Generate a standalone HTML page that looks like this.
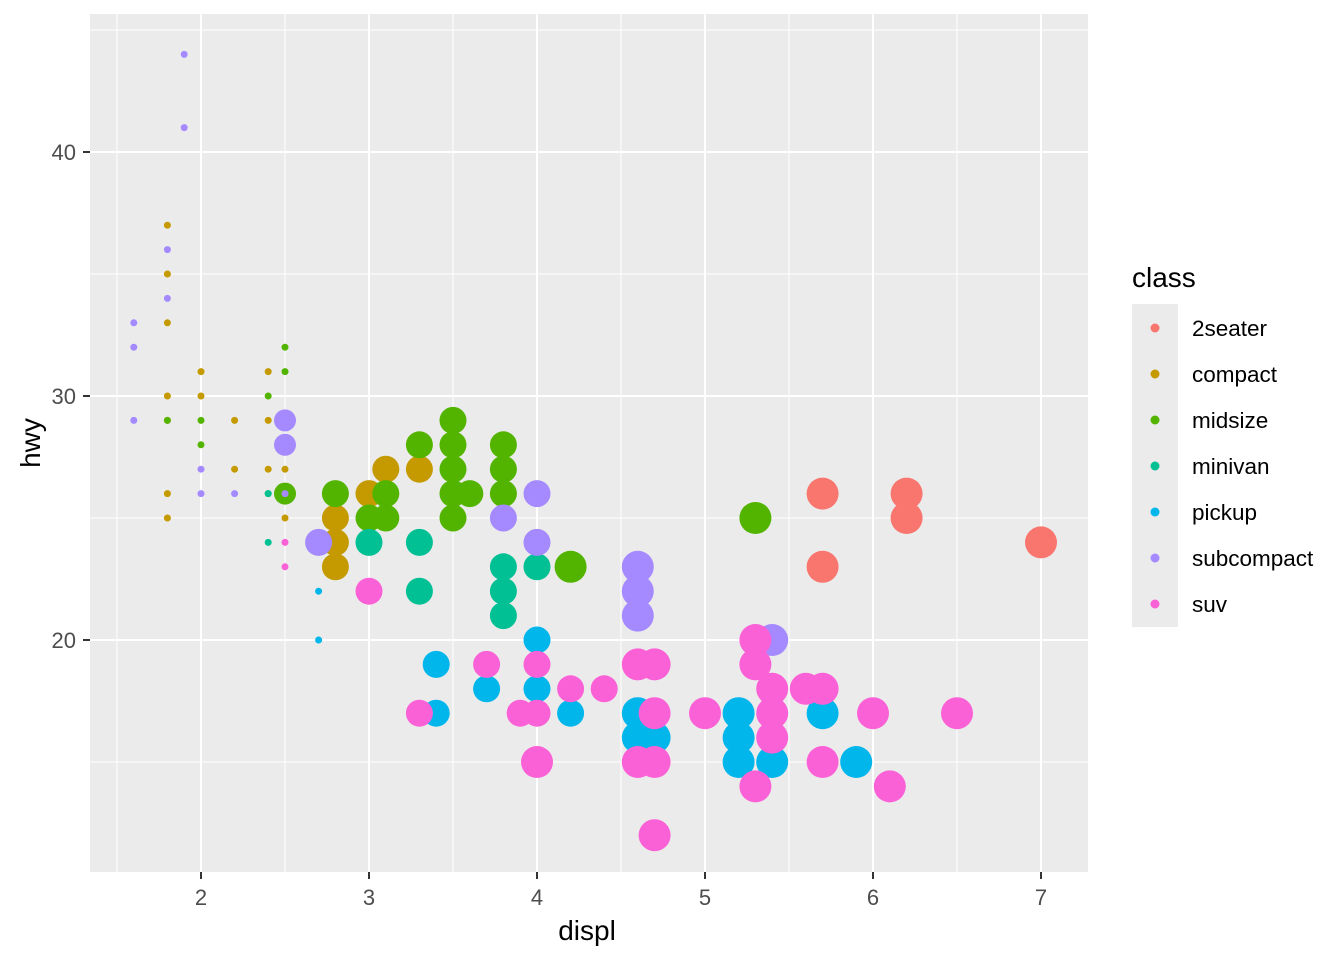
<!DOCTYPE html>
<html><head><meta charset="utf-8"><style>
body{margin:0;background:#fff}
svg{display:block;font-family:"Liberation Sans",sans-serif}
</style></head><body>
<svg id="s" width="1344" height="960" xmlns="http://www.w3.org/2000/svg">
<rect x="0" y="0" width="1344" height="960" fill="#fff"/>
<rect x="90" y="14" width="998" height="858" fill="#EBEBEB"/>
<g id="grid"></g>
<g id="pts"></g>
<g id="ax" fill="#4D4D4D" font-size="22"></g>
<text x="587" y="940" font-size="28" text-anchor="middle" fill="#000">displ</text>
<text transform="translate(40,443) rotate(-90)" font-size="28" text-anchor="middle" fill="#000">hwy</text>
<text x="1132" y="287" font-size="28" fill="#000">class</text>
<rect x="1132" y="304" width="46" height="323" fill="#EBEBEB"/>
<g id="leg" font-size="22.5"></g>
</svg>
<script>
const ns="http://www.w3.org/2000/svg";
function el(p,t,a,txt){const e=document.createElementNS(ns,t);for(const k in a)e.setAttribute(k,a[k]);if(txt!==undefined)e.textContent=txt;document.getElementById(p).appendChild(e);}
const X=d=>201+(d-2)*168, Y=h=>640-(h-20)*24.4;
[1.5,2.5,3.5,4.5,5.5,6.5].forEach(d=>el('grid','line',{x1:X(d),x2:X(d),y1:14,y2:872,stroke:'#fff','stroke-width':1}));
[15,25,35,45].forEach(h=>el('grid','line',{x1:90,x2:1088,y1:Y(h),y2:Y(h),stroke:'#fff','stroke-width':1}));
[2,3,4,5,6,7].forEach(d=>{el('grid','line',{x1:X(d),x2:X(d),y1:14,y2:872,stroke:'#fff','stroke-width':2});
 el('ax','line',{x1:X(d),x2:X(d),y1:872,y2:879,stroke:'#333','stroke-width':2});
 el('ax','text',{x:X(d),y:905,'text-anchor':'middle'},d);});
[20,30,40].forEach(h=>{el('grid','line',{x1:90,x2:1088,y1:Y(h),y2:Y(h),stroke:'#fff','stroke-width':2});
 el('ax','line',{x1:83,x2:90,y1:Y(h),y2:Y(h),stroke:'#333','stroke-width':2});
 el('ax','text',{x:76,y:Y(h)+8,'text-anchor':'end'},h);});
const C={t:'#F8766D',c:'#C49A00',m:'#53B400',v:'#00C094',p:'#00B6EB',s:'#A58AFF',u:'#FB61D7'};
const S=3.5,L=13.5,B=16,M=11;
const P=[
['t',[[5.7,26],[6.2,26],[6.2,25],[5.7,23],[7,24]],B],
['c',[[1.8,37],[1.8,35],[1.8,33],[1.8,30],[1.8,29],[1.8,26],[1.8,25],[2,31],[2,30],[2.2,29],[2.2,27],[2.4,31],[2.4,29],[2.4,27],[2.5,29],[2.5,27],[2.5,25]],S],
['c',[[2.8,25],[2.8,24],[2.8,23],[3,26],[3.1,27],[3.3,27]],L],
['m',[[1.8,29],[2,29],[2,28],[2.4,30],[2.4,26],[2.5,32],[2.5,31]],S],
['m',[[2.5,26]],M],
['m',[[2.8,26],[3,25],[3.1,26],[3.1,25],[3.3,28],[3.5,29],[3.5,28],[3.5,27],[3.5,26],[3.5,25],[3.6,26],[3.8,28],[3.8,27],[3.8,26]],L],
['m',[[4.2,23],[5.3,25]],B],
['v',[[2.4,24],[2.4,26]],S],
['v',[[3,24],[3.3,24],[3.3,22],[3.8,23],[3.8,22],[3.8,21],[4,23]],L],
['p',[[2.7,22],[2.7,20]],S],
['p',[[3.4,19],[3.4,17],[3.7,18],[4,20],[4,18],[4.2,17]],L],
['p',[[4.6,17],[4.6,16],[4.7,16],[5.2,17],[5.2,16],[5.2,15],[5.4,15],[5.7,17],[5.9,15]],B],
['s',[[1.6,33],[1.6,32],[1.6,29],[1.9,44],[1.9,41],[1.8,36],[1.8,34],[2,27],[2,26],[2.2,26],[2.5,26]],S],
['s',[[2.5,29],[2.5,28]],M],
['s',[[2.7,24],[3.8,25],[4,26],[4,24]],L],
['s',[[4.6,23],[4.6,22],[4.6,21],[5.4,20]],B],
['u',[[2.5,24],[2.5,23]],S],
['u',[[3,22],[3.3,17],[3.7,19],[3.9,17],[4,17],[4,19],[4.2,18],[4.4,18]],L],
['u',[[4,15],[4.6,19],[4.7,19],[4.6,15],[4.7,15],[4.7,17],[4.7,12],[5,17],[5.3,20],[5.3,19],[5.3,14],[5.4,18],[5.4,17],[5.4,16],[5.6,18],[5.7,18],[5.7,15],[6,17],[6.1,14],[6.5,17]],B]
];
P.forEach(([k,a,r])=>a.forEach(([d,h])=>el('pts','circle',{cx:X(d),cy:Y(h),r:r,fill:C[k]})));
const names=[['t','2seater'],['c','compact'],['m','midsize'],['v','minivan'],['p','pickup'],['s','subcompact'],['u','suv']];
names.forEach(([k,n],i)=>{const y=328+i*46;el('leg','circle',{cx:1155,cy:y,r:4.5,fill:C[k]});el('leg','text',{x:1192,y:y+8,fill:'#000'},n);});
</script>
</body></html>
